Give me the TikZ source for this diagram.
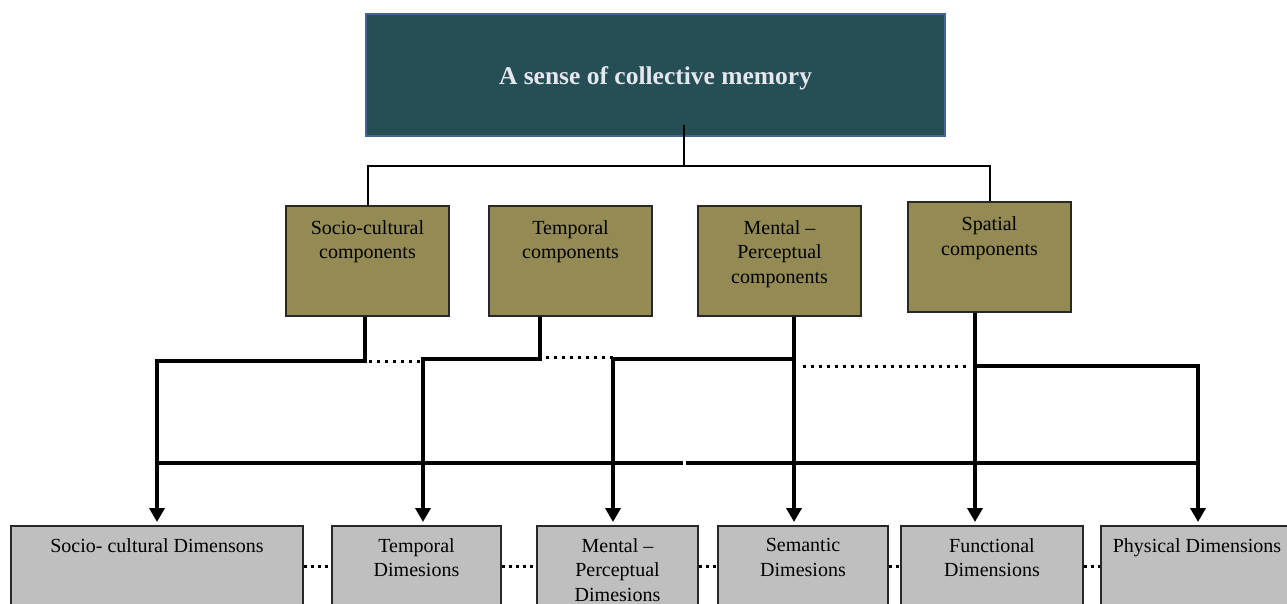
\documentclass[tikz,border=0pt]{standalone}
\usepackage{fontspec}
\setmainfont{Liberation Serif}
\usepackage{xcolor}
\usepackage{tikz}
\usetikzlibrary{arrows.meta, positioning}

\definecolor{topfill}{RGB}{37,78,85}
\definecolor{topedge}{RGB}{70,100,145}
\definecolor{toptext}{RGB}{230,230,240}
\definecolor{compfill}{RGB}{148,138,84}
\definecolor{dimfill}{RGB}{191,191,191}
\definecolor{boxedge}{RGB}{40,40,40}

\tikzset{
    topbox/.style={draw=topedge, fill=topfill, line width=1.5pt, minimum width=579pt, minimum height=122pt},
    toptitle/.style={text=toptext, inner sep=0pt, font=\fontsize{25.5}{30}\selectfont\bfseries},
    compbox/.style={draw=boxedge, fill=compfill, line width=2pt, minimum width=163pt, minimum height=110pt},
    dimbox/.style={draw=boxedge, fill=dimfill, line width=2pt, minimum height=100pt, anchor=north west},
    boxtext/.style={align=center, anchor=north, inner sep=0pt, font=\fontsize{20}{24.5}\selectfont},
    feed/.style={line width=2pt},
    branch/.style={line width=4.5pt},
    tip/.style={-{Triangle[length=14pt,width=15pt]}, shorten >=3pt},
    dots/.style={line width=3pt, dash pattern=on 3pt off 5pt},
}

\begin{document}
\begin{tikzpicture}[x=1pt, y=1pt]
    \useasboundingbox (0,0) rectangle (1287,603);
    \clip (0,0) rectangle (1287,603);

    % Top of the tree
    \node[topbox] (memory) at (655.5,528) {};
    \node[toptitle] (memory-t) at ([yshift=-3pt]memory.center) {A sense of collective memory};

    % Components
    \node[compbox] (soc) at (367.5,342) {};
    \node[compbox] (tem) at (570.5,342) {};
    \node[compbox] (men) at (779.5,342) {};
    \node[compbox] (spa) at (989.5,345.5) {};
    \node[boxtext] (soc-t) at ([yshift=-15.3pt]soc.north) {Socio-cultural\\components};
    \node[boxtext] (tem-t) at ([yshift=-15.3pt]tem.north) {Temporal\\components};
    \node[boxtext] (men-t) at ([yshift=-15.3pt]men.north) {Mental --\\Perceptual\\components};
    \node[boxtext] (spa-t) at ([yshift=-15.3pt]spa.north) {Spatial\\components};

    % Dimensions
    \node[dimbox, minimum width=292pt] (dsoc) at (10,78) {};
    \node[dimbox, minimum width=169pt] (dtem) at (331,78) {};
    \node[dimbox, minimum width=161pt] (dmen) at (536,78) {};
    \node[dimbox, minimum width=170pt] (dsem) at (717,78) {};
    \node[dimbox, minimum width=182pt] (dfun) at (900,78) {};
    \node[dimbox, minimum width=192pt] (dphy) at (1100,78) {};
    \node[boxtext] (dsoc-t) at ([yshift=-13.3pt]dsoc.north) {Socio- cultural Dimensons};
    \node[boxtext] (dtem-t) at ([yshift=-13.3pt]dtem.north) {Temporal\\Dimesions};
    \node[boxtext] (dmen-t) at ([yshift=-13.3pt]dmen.north) {Mental --\\Perceptual\\Dimesions};
    \node[boxtext] (dsem-t) at ([yshift=-13.3pt]dsem.north) {Semantic\\Dimesions};
    \node[boxtext] (dfun-t) at ([yshift=-13.3pt]dfun.north) {Functional\\Dimensions};
    \node[boxtext] (dphy-t) at ([yshift=-13.3pt]dphy.north) {Physical Dimensions};

    % Memory to components
    \coordinate (tj) at (684,437);
    \draw[feed] ([xshift=28.5pt,yshift=12pt]memory.south) -- (tj);
    \draw[feed] (soc.north) -- (soc.north |- tj) -- (spa.north |- tj) -- (spa.north);

    % Components to dimensions
    \coordinate (soc-out) at ([xshift=-2.5pt]soc.south);
    \coordinate (tem-out) at ([xshift=-30.5pt]tem.south);
    \coordinate (men-out) at ([xshift=14.5pt]men.south);
    \coordinate (spa-out) at ([xshift=-14.5pt]spa.south);
    \coordinate (r1) at (157,242);
    \coordinate (r2) at (423,244);
    \coordinate (r3) at (613,244);
    \coordinate (r4) at (1198,237);
    \coordinate (d2) at (0,246);
    \coordinate (h) at (0,140);

    \draw[line width=3.5pt] (r1 |- h) -- (683,140);
    \draw[line width=3.5pt] (686,140) -- (r4 |- h);

    \draw[branch, tip] (soc-out) |- (r1) -- (r1 |- dsoc.north);
    \draw[branch, tip] (tem-out) |- (r2) -- (r2 |- dtem.north);
    \draw[branch, tip] (men-out) |- (r3) -- (r3 |- dmen.north);
    \draw[branch, tip] (men-out) -- (men-out |- dsem.north);
    \draw[branch, tip] (spa-out) -- (spa-out |- dfun.north);
    \draw[branch, tip] (spa-out) |- (r4) -- (r4 |- dphy.north);

    \draw[dots] ([xshift=4pt]soc-out |- r1) -- (r2 |- r1);
    \draw[dots] ([xshift=6pt]tem-out |- d2) -- (r3 |- d2);
    \draw[dots, shorten <=9pt, shorten >=8pt] (men-out |- r4) -- (spa-out |- r4);

    % dotted links between the dimensions
    \foreach \a/\b in {dsoc/dtem, dtem/dmen, dmen/dsem, dsem/dfun, dfun/dphy}
        \draw[dots, dash pattern=on 3pt off 4pt] ([yshift=10pt]\a.east) -- ([yshift=10pt]\b.west);
\end{tikzpicture}
\end{document}
